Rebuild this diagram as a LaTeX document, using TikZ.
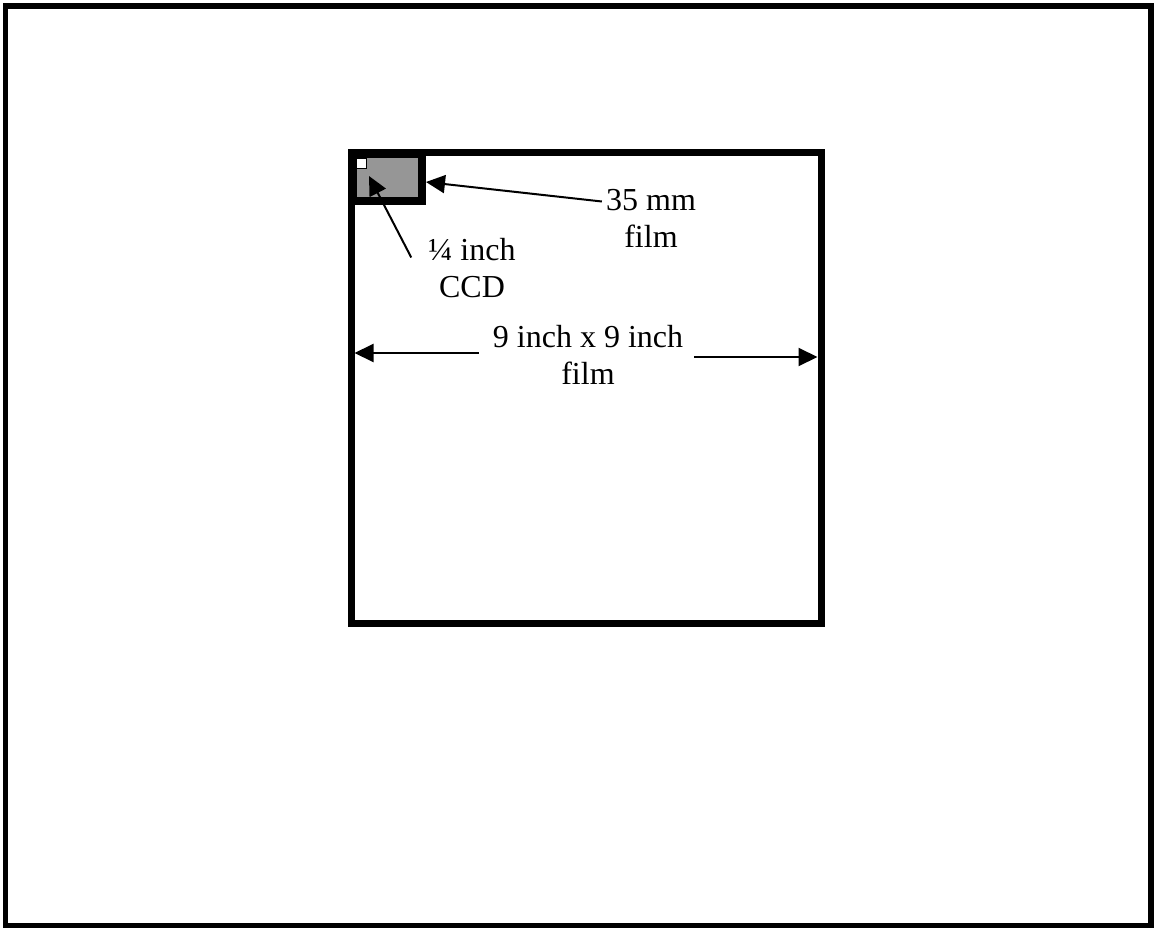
\documentclass[tikz,border=0pt]{standalone}
\usepackage{fontspec}
\setmainfont{Liberation Serif}
\usetikzlibrary{arrows.meta,calc}
\definecolor{filmgray}{RGB}{150,150,150}
\begin{document}
\begin{tikzpicture}[x=1pt,y=-1pt,
  lbl/.style={inner sep=0pt, align=center, font=\fontsize{32}{37}\selectfont},
  arr/.style={line width=2pt, -{Triangle[length=19pt,width=18pt]}},
  box/.style={draw, inner sep=0pt, outer sep=0pt}
]
\useasboundingbox (0,0) rectangle (1154,928);
% outer frame
\draw[line width=5.5pt] (5.5,6) rectangle (1151,926);
% 9 inch sheet
\node[box, line width=7pt, minimum width=470pt, minimum height=470pt] (sheet) at (586,388) {};
% 35 mm film
\node[box, fill=filmgray, line width=8pt, minimum width=69pt, minimum height=47pt] (film) at (387.5,177.5) {};
% CCD
\node[box, fill=white, line width=1pt, minimum size=10pt] (ccd) at (361.5,164) {};
% labels
\node[lbl] (l35) at (651,218.5) {35 mm\\film};
\node[lbl] (lccd) at (472,268.5) {¼ inch\\CCD};
\node[lbl] (l9) at (588,355) {9 inch x 9 inch\\film};
% arrow targets
\coordinate (ccdtip) at (369,176);
\coordinate (filmtip) at (426,182);
\coordinate (sqL) at (354.5,353);
\coordinate (sqR) at (817.5,357);
% arrows
\draw[arr] ($(l35.west)+(-4,-17)$) -- (filmtip);
\draw[arr] ($(lccd.west)+(-17,-11)$) -- (ccdtip);
\draw[arr] ($(l9.west|-sqL)+(-14,0)$) -- (sqL);
\draw[arr] ($(l9.east|-sqR)+(11,0)$) -- (sqR);
\end{tikzpicture}
\end{document}
